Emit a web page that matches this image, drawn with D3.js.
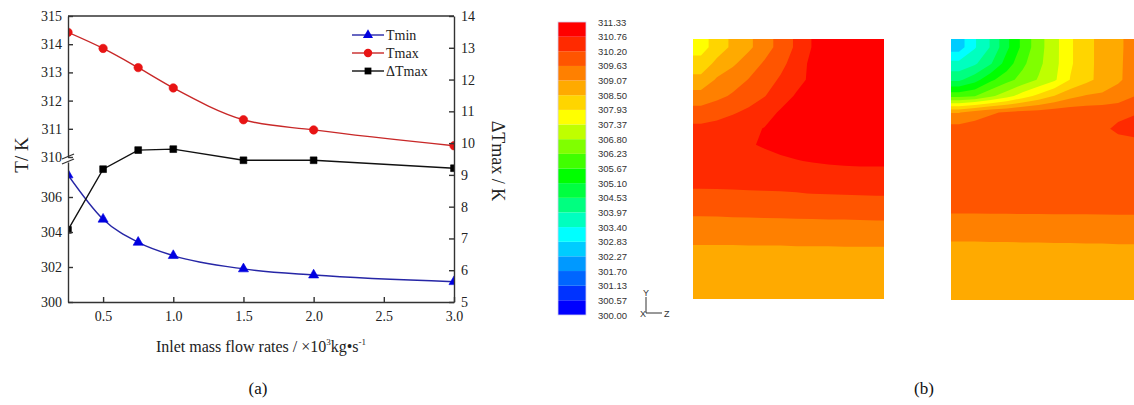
<!DOCTYPE html>
<html><head><meta charset="utf-8">
<script src="https://cdn.jsdelivr.net/npm/d3@7"></script>
<style>body{margin:0;background:#fff}svg{display:block}</style>
</head><body>
<svg id="c" width="1134" height="405"></svg>
<script>
// ---------- data: panel (a) ----------
const flowRates = [0.25, 0.5, 0.75, 1.0, 1.5, 2.0, 3.0];
const tMin  = [307.26, 304.73, 303.41, 302.65, 301.89, 301.54, 301.16];
const tMax  = [314.42, 313.85, 313.17, 312.45, 311.32, 310.96, 310.40];
const dTMax = [7.27, 9.18, 9.78, 9.81, 9.46, 9.46, 9.21];
const xTicks = [0.5, 1.0, 1.5, 2.0, 2.5, 3.0];
const yUpperTicks = [310, 311, 312, 313, 314, 315];
const yLowerTicks = [300, 302, 304, 306];
const yRightTicks = [5, 6, 7, 8, 9, 10, 11, 12, 13, 14];
const legendLabels = ["Tmin", "Tmax", "\u0394Tmax"];

// ---------- data: panel (b) ----------
const colorbarLabels = ["311.33","310.76","310.20","309.63","309.07","308.50","307.93","307.37","306.80","306.23","305.67","305.10","304.53","303.97","303.40","302.83","302.27","301.70","301.13","300.57","300.00"];
const bandColors = ["#0000ff","#0033ff","#0066ff","#0099ff","#00ccff","#00ffff","#00ffbf","#00ff80","#00ff40","#00ff00","#40ff00","#80ff00","#bfff00","#ffff00","#ffd500","#ffaa00","#ff8000","#ff5500","#ff2a00","#ff0000"];
// temperature grids (rows top->bottom, 12 columns left->right), K
const fieldA = [
 [307.67,308.21,308.61,308.96,309.38,309.84,310.30,310.79,310.99,311.05,311.05,311.05],
 [308.17,308.64,308.98,309.34,309.70,310.04,310.46,310.91,311.02,311.05,311.05,311.05],
 [308.66,309.14,309.39,309.65,309.95,310.27,310.59,310.88,310.99,311.05,311.05,311.05],
 [309.30,309.49,309.70,309.94,310.18,310.51,310.82,310.96,311.05,311.05,311.05,311.05],
 [309.85,309.97,310.14,310.31,310.54,310.82,310.93,311.02,311.05,311.05,311.05,311.05],
 [310.34,310.42,310.51,310.65,310.78,310.93,311.02,311.05,311.05,311.05,311.05,311.05],
 [310.48,310.54,310.62,310.71,310.82,310.96,310.99,311.02,311.05,311.05,311.05,311.05],
 [310.48,310.48,310.51,310.54,310.59,310.65,310.74,310.79,310.83,310.86,310.88,310.88],
 [310.42,310.42,310.43,310.45,310.47,310.48,310.49,310.51,310.52,310.53,310.54,310.54],
 [310.11,310.12,310.13,310.14,310.15,310.16,310.18,310.21,310.22,310.23,310.24,310.25],
 [309.77,309.78,309.80,309.81,309.82,309.83,309.85,309.86,309.87,309.88,309.90,309.91],
 [309.43,309.43,309.44,309.44,309.45,309.45,309.46,309.46,309.47,309.47,309.48,309.49],
 [309.12,309.12,309.12,309.13,309.13,309.13,309.14,309.14,309.14,309.15,309.15,309.15],
 [308.84,308.84,308.84,308.85,308.85,308.85,308.86,308.86,308.86,308.87,308.87,308.87],
 [308.72,308.72,308.72,308.72,308.72,308.72,308.72,308.72,308.72,308.72,308.72,308.72],
 [308.67,308.67,308.67,308.67,308.67,308.67,308.67,308.67,308.67,308.67,308.67,308.67]
];
const fieldB = [
 [302.55,303.35,304.02,304.97,305.82,306.58,307.18,307.85,308.33,308.68,308.99,309.23],
 [303.57,303.88,304.48,305.36,306.10,306.66,307.19,307.85,308.33,308.68,308.99,309.26],
 [304.42,304.87,305.55,306.02,306.44,306.85,307.28,307.96,308.35,308.68,308.99,309.29],
 [306.06,306.21,306.68,307.14,307.65,308.10,308.53,308.92,309.12,309.18,309.32,309.62],
 [309.04,309.35,309.57,309.69,309.83,309.86,309.94,309.97,309.98,310.00,310.06,310.15],
 [309.86,309.89,309.91,309.94,309.97,309.98,310.00,310.02,310.03,310.10,310.30,310.42],
 [309.86,309.87,309.89,309.90,309.91,309.93,309.94,309.96,309.97,309.98,310.00,310.00],
 [309.88,309.88,309.88,309.89,309.89,309.89,309.89,309.90,309.90,309.90,309.90,309.90],
 [309.87,309.87,309.88,309.88,309.88,309.88,309.88,309.89,309.89,309.89,309.89,309.89],
 [309.82,309.82,309.82,309.83,309.83,309.83,309.83,309.83,309.84,309.84,309.84,309.84],
 [309.69,309.69,309.70,309.70,309.70,309.70,309.71,309.71,309.71,309.71,309.72,309.72],
 [309.38,309.38,309.38,309.38,309.39,309.39,309.39,309.39,309.39,309.40,309.40,309.40],
 [309.04,309.04,309.05,309.05,309.06,309.06,309.07,309.07,309.08,309.08,309.09,309.09],
 [308.84,308.84,308.84,308.84,308.84,308.84,308.84,308.84,308.84,308.84,308.84,308.84],
 [308.72,308.72,308.72,308.72,308.72,308.72,308.72,308.72,308.72,308.72,308.72,308.72],
 [308.67,308.67,308.67,308.67,308.67,308.67,308.67,308.67,308.67,308.67,308.67,308.67]
];

// ---------- drawing ----------
const SERIF = "'Liberation Serif','Times New Roman',serif";
const SANS = "'Liberation Sans',Arial,sans-serif";
const svg = d3.select("#c");
const defs = svg.append("defs");
const P = {l: 68, r: 454, t: 16, b: 302};

const x  = d3.scaleLinear().domain([0.25, 3.0]).range([P.l, P.r]);
const yU = d3.scaleLinear().domain([310, 315]).range([157, P.t]);
const yL = d3.scaleLinear().domain([300, 308]).range([P.b, 162]);
const yR = d3.scaleLinear().domain([5, 14]).range([P.b, P.t]);

defs.append("clipPath").attr("id", "plotclip").append("rect")
  .attr("x", P.l).attr("y", P.t).attr("width", P.r - P.l).attr("height", P.b - P.t);

const series = [
  {name: legendLabels[0], vals: tMin,  y: yL, line: "#2626a6", fill: "#0000e0", sym: d3.symbolTriangle, size: 44, curve: d3.curveMonotoneX},
  {name: legendLabels[1], vals: tMax,  y: yU, line: "#c82828", fill: "#e81414", sym: d3.symbolCircle,   size: 56, curve: d3.curveMonotoneX},
  {name: legendLabels[2], vals: dTMax, y: yR, line: "#111111", fill: "#000000", sym: d3.symbolSquare,   size: 46, curve: d3.curveLinear}
];

const dataG = svg.append("g").attr("clip-path", "url(#plotclip)");
series.forEach(s => {
  const pts = flowRates.map((f, i) => [f, s.vals[i]]);
  dataG.append("path").datum(pts)
    .attr("fill", "none").attr("stroke", s.line).attr("stroke-width", 1.4)
    .attr("d", d3.line().x(d => x(d[0])).y(d => s.y(d[1])).curve(s.curve));
  dataG.selectAll(null).data(pts).join("path")
    .attr("transform", d => `translate(${x(d[0])},${s.y(d[1])})`)
    .attr("d", d3.symbol(s.sym, s.size))
    .attr("fill", s.fill).attr("stroke", s.fill).attr("stroke-width", 0.6);
});

function styleAxis(g) {
  g.selectAll("path, line").attr("stroke", "#333").attr("stroke-width", 1.4);
  g.selectAll("text").attr("font-family", SERIF).attr("font-size", 14).attr("fill", "#222");
}
svg.append("g").attr("transform", `translate(0,${P.b})`)
  .call(d3.axisBottom(x).tickValues(xTicks).tickFormat(d3.format(".1f")).tickSize(-5).tickSizeOuter(0).tickPadding(9))
  .call(styleAxis);
svg.append("g").attr("transform", `translate(${P.l},0)`)
  .call(d3.axisLeft(yU).tickValues(yUpperTicks).tickFormat(d3.format("d")).tickSize(-5).tickSizeOuter(0).tickPadding(6))
  .call(styleAxis);
svg.append("g").attr("transform", `translate(${P.l},0)`)
  .call(d3.axisLeft(yL).tickValues(yLowerTicks).tickFormat(d3.format("d")).tickSize(-5).tickSizeOuter(0).tickPadding(6))
  .call(styleAxis);
svg.append("g").attr("transform", `translate(${P.r},0)`)
  .call(d3.axisRight(yR).tickValues(yRightTicks).tickFormat(d3.format("d")).tickSize(-5).tickSizeOuter(0).tickPadding(7))
  .call(styleAxis);
svg.append("line").attr("x1", P.l).attr("x2", P.r).attr("y1", P.t).attr("y2", P.t)
  .attr("stroke", "#333").attr("stroke-width", 1.4);
// axis break marks
[0, 5].forEach(dy => {
  svg.append("line").attr("x1", P.l - 6).attr("y1", 159 + dy).attr("x2", P.l + 6).attr("y2", 154 + dy)
    .attr("stroke", "#333").attr("stroke-width", 1.3);
});

// axis titles
svg.append("text").attr("transform", `translate(28,155) rotate(-90)`).attr("text-anchor", "middle")
  .attr("font-family", SERIF).attr("font-size", 19).attr("fill", "#222").text("T/ K");
svg.append("text").attr("transform", `translate(492,161) rotate(90)`).attr("text-anchor", "middle")
  .attr("font-family", SERIF).attr("font-size", 18).attr("fill", "#222").text("\u0394Tmax / K");
const xt = svg.append("text").attr("x", 261).attr("y", 352).attr("text-anchor", "middle")
  .attr("font-family", SERIF).attr("font-size", 16).attr("fill", "#222");
xt.append("tspan").text("Inlet mass flow rates / \u00d710");
xt.append("tspan").attr("font-size", 9).attr("dy", -7).text("3");
xt.append("tspan").attr("dy", 7).text("kg\u2022s");
xt.append("tspan").attr("font-size", 9).attr("dy", -7).text("-1");

// legend
const lg = svg.append("g");
series.forEach((s, i) => {
  const yy = 35 + i * 18;
  lg.append("line").attr("x1", 352).attr("x2", 384).attr("y1", yy).attr("y2", yy)
    .attr("stroke", s.line).attr("stroke-width", 1.4);
  lg.append("path").attr("transform", `translate(368,${yy})`).attr("d", d3.symbol(s.sym, s.size))
    .attr("fill", s.fill);
  lg.append("text").attr("x", 386).attr("y", yy + 5).attr("font-family", SERIF).attr("font-size", 14)
    .attr("fill", "#222").text(s.name);
});

// ---------- panel (b): colour bar ----------
const levels = colorbarLabels.map(Number).slice().reverse(); // ascending
const thresholds = levels.slice(0, bandColors.length);
const colorOf = v => bandColors[Math.max(0, d3.bisectRight(thresholds, v + 1e-9) - 1)];
const yC = d3.scaleLinear().domain([levels[0], levels[levels.length - 1]]).range([315, 22]);
const cb = svg.append("g");
cb.selectAll("rect").data(thresholds).join("rect")
  .attr("x", 558).attr("width", 28)
  .attr("y", (d, i) => yC(levels[i + 1]))
  .attr("height", (d, i) => yC(levels[i]) - yC(levels[i + 1]))
  .attr("fill", (d, i) => bandColors[i]);
cb.append("rect").attr("x", 558).attr("y", 22).attr("width", 28).attr("height", 293)
  .attr("fill", "none").attr("stroke", "#d4d0ee").attr("stroke-width", 0.8);
cb.selectAll("text").data(colorbarLabels).join("text")
  .attr("x", 598).attr("y", d => yC(+d) + 3.5)
  .attr("font-family", SANS).attr("font-size", 9.5).attr("fill", "#333").text(d => d);

// axis triad
const tri = svg.append("g").attr("font-family", SANS).attr("font-size", 9).attr("fill", "#333");
tri.append("line").attr("x1", 646).attr("x2", 646).attr("y1", 297).attr("y2", 313).attr("stroke", "#333");
tri.append("line").attr("x1", 646).attr("x2", 662).attr("y1", 313).attr("y2", 313).attr("stroke", "#333");
tri.append("text").attr("x", 646).attr("y", 296).attr("text-anchor", "middle").text("Y");
tri.append("text").attr("x", 643).attr("y", 317).attr("text-anchor", "middle").text("X");
tri.append("text").attr("x", 664).attr("y", 317).text("Z");

// ---------- panel (b): contour fields ----------
function drawField(grid, id, x0, y0, w, h) {
  const ny = grid.length, nx = grid[0].length;
  // replicate the edge values once so the outer contours run to the border
  const rows = grid.map(r => [r[0], ...r, r[nx - 1]]);
  const padded = [rows[0], ...rows, rows[ny - 1]];
  const sx = d3.scaleLinear().domain([1, nx + 1]).range([x0, x0 + w]);
  const sy = d3.scaleLinear().domain([1, ny + 1]).range([y0, y0 + h]);
  const proj = d3.geoTransform({point(px, py) { this.stream.point(sx(px), sy(py)); }});
  const path = d3.geoPath(proj);
  const polys = d3.contours().size([nx + 2, ny + 2]).thresholds(thresholds)(padded.flat());
  defs.append("clipPath").attr("id", id).append("rect")
    .attr("x", x0).attr("y", y0).attr("width", w).attr("height", h);
  svg.append("g").attr("clip-path", `url(#${id})`).selectAll("path").data(polys).join("path")
    .attr("d", path).attr("fill", d => colorOf(d.value));
}
drawField(fieldA, "clipA", 693, 39, 191, 260);
drawField(fieldB, "clipB", 951, 39, 191, 261);

// captions
svg.append("text").attr("x", 258).attr("y", 394).attr("text-anchor", "middle")
  .attr("font-family", SERIF).attr("font-size", 17).attr("fill", "#111").text("(a)");
svg.append("text").attr("x", 924).attr("y", 394).attr("text-anchor", "middle")
  .attr("font-family", SERIF).attr("font-size", 17).attr("fill", "#111").text("(b)");
</script>
</body></html>
